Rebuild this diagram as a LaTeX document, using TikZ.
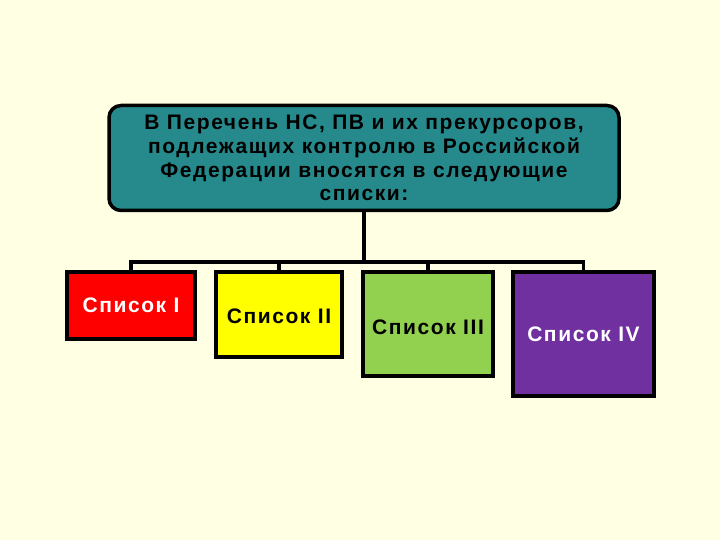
\documentclass[tikz,border=0pt]{standalone}
\usepackage{fontspec}
\setmainfont{Liberation Sans}[LetterSpace=7.5]
\definecolor{bg}{HTML}{FFFFE3}
\definecolor{teal1}{HTML}{268A8C}
\definecolor{red1}{HTML}{FF0000}
\definecolor{yel1}{HTML}{FFFF00}
\definecolor{grn1}{HTML}{92D050}
\definecolor{pur1}{HTML}{7030A0}
\begin{document}
\begin{tikzpicture}[x=1pt,y=-1pt,
  box/.style={draw=black,line width=3.5pt,inner sep=0pt},
  lbl/.style={font=\fontsize{21}{24}\selectfont\bfseries},
  conn/.style={draw=black,line width=3.5pt}]
\fill[bg] (0,0) rectangle (720,540);
\useasboundingbox (0,0) rectangle (720,540);
\node[box,fill=teal1,rounded corners=12pt,minimum width=510pt,minimum height=105pt,align=center,
  font=\fontsize{21}{23.8}\selectfont\bfseries] (top) at (364,158)
  {В Перечень НС, ПВ и их прекурсоров,\\подлежащих контролю в Российской\\Федерации вносятся в следующие\\списки:};
\node[box,fill=red1,minimum width=128pt,minimum height=67pt] (l1) at (131,305.5) {};
\node[box,fill=yel1,minimum width=126pt,minimum height=85pt] (l2) at (279,314.5) {};
\node[box,fill=grn1,minimum width=130pt,minimum height=104pt] (l3) at (428,324) {};
\node[box,fill=pur1,minimum width=141pt,minimum height=124pt] (l4) at (583.5,334) {};
\node[lbl,text=white] (t1) at (131,305) {Список I};
\node[lbl] (t2) at (279,316) {Список II};
\node[lbl] (t3) at (428,327) {Список III};
\node[lbl,text=white] (t4) at (583.5,334) {Список IV};
\coordinate (hb) at (364,262);
\draw[conn] (top.south) -- (top.south |- hb);
\draw[conn] (l1.north) |- (hb);
\draw[conn] (l4.north) |- (hb);
\draw[conn] (l2.north) -- (l2.north |- hb);
\draw[conn] (l3.north) -- (l3.north |- hb);
\end{tikzpicture}
\end{document}
